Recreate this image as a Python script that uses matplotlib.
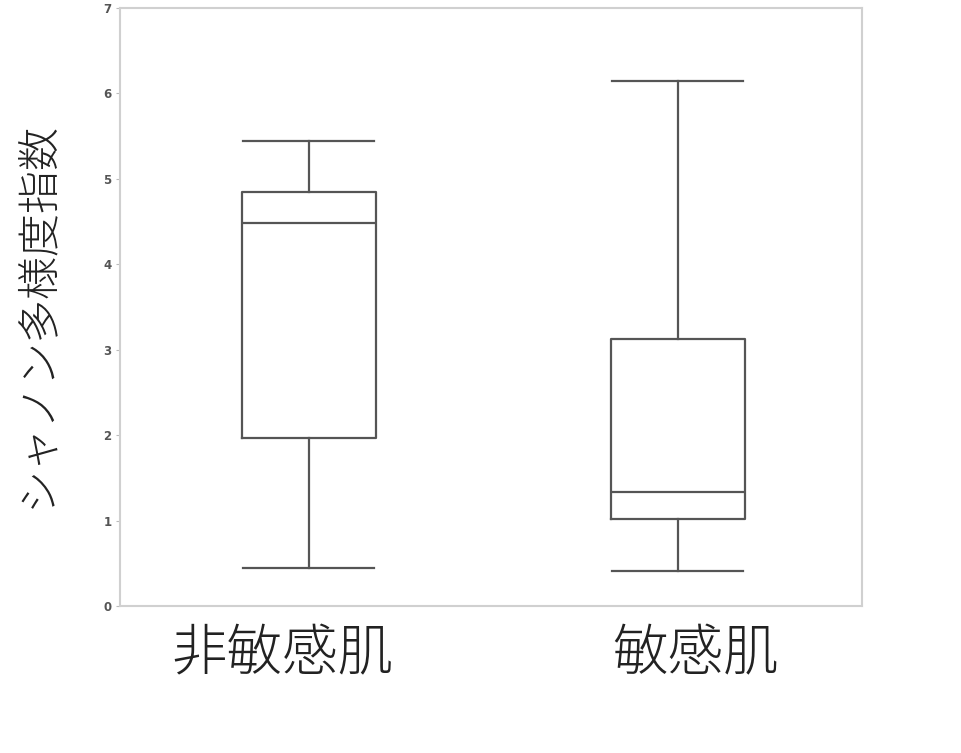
import matplotlib
matplotlib.use("Agg")
import matplotlib.pyplot as plt
import matplotlib.transforms as mtransforms

plt.rcParams['font.family'] = ['Noto Sans CJK JP', 'DejaVu Sans']

categories = ["非敏感肌", "敏感肌"]
whisker_low = [0.45, 0.41]
q1 = [1.97, 1.02]
median = [4.48, 1.33]
q3 = [4.85, 3.13]
whisker_high = [5.44, 6.15]
yticks = [0, 1, 2, 3, 4, 5, 6, 7]
ylabel = "シャノン多様度指数"

fig = plt.figure(figsize=(9.61, 7.53), dpi=100)
ax = fig.add_axes([0.1249, 0.1952, 0.7721, 0.7942])

stats = []
for i, name in enumerate(categories):
    stats.append(dict(label=name, whislo=whisker_low[i], q1=q1[i], med=median[i],
                      q3=q3[i], whishi=whisker_high[i], fliers=[]))

line_col = "#555555"
lw = 1.6
positions = [1, 2]
ax.bxp(stats, positions=positions, widths=0.363, capwidths=0.355, showfliers=False,
       boxprops=dict(color=line_col, linewidth=lw),
       whiskerprops=dict(color=line_col, linewidth=lw),
       capprops=dict(color=line_col, linewidth=lw),
       medianprops=dict(color=line_col, linewidth=lw))

ax.set_xlim(0.488, 2.50)
ax.set_ylim(0, 7)
ax.set_yticks(yticks)
ax.set_yticklabels([str(t) for t in yticks], fontsize=8.5, color="#555555",
                   fontweight="bold", family=['DejaVu Sans'])
ax.tick_params(axis='y', length=3, width=0.8, color="#bbbbbb", pad=3)
ax.set_xticks(positions)
ax.set_xticklabels(["", ""])
ax.tick_params(axis='x', length=0)

for sp in ax.spines.values():
    sp.set_color("#d0d0d0")
    sp.set_linewidth(1.5)

# category labels (slightly offset in the reference)
trans = mtransforms.blended_transform_factory(ax.transData, ax.transAxes)
offsets = [-0.073, 0.049]
for pos, name, off in zip(positions, categories, offsets):
    ax.text(pos + off, -0.080, name, transform=trans, ha="center", va="center",
            fontsize=40, color="#222222", fontweight="light")

ax.set_ylabel(ylabel, fontsize=31, color="#222222", fontweight="light")
ax.yaxis.set_label_coords(-0.082, 0.487)

fig.savefig("out.png", dpi=100)
